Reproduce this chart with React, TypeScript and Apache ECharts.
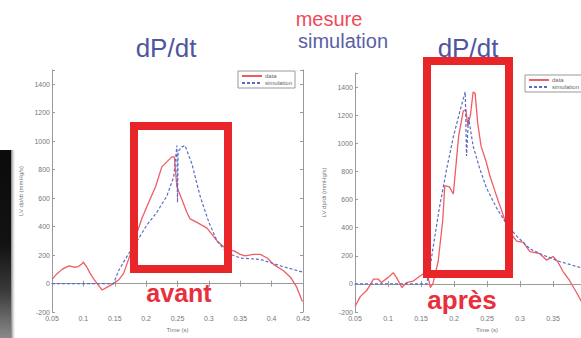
import React, { useEffect, useRef } from "react";
import * as echarts from "echarts";

// Left panel ("avant")
const leftDataTime = [0.05, 0.058, 0.066, 0.077, 0.085, 0.092, 0.098, 0.1, 0.105, 0.111, 0.117, 0.122, 0.13, 0.138, 0.148, 0.156, 0.164, 0.172, 0.178, 0.185, 0.193, 0.204, 0.215, 0.225, 0.233, 0.241, 0.245, 0.249, 0.257, 0.265, 0.27, 0.281, 0.297, 0.313, 0.329, 0.34, 0.35, 0.358, 0.371, 0.382, 0.393, 0.403, 0.419, 0.43, 0.44, 0.449];
const leftDataValue = [30, 70, 100, 125, 115, 120, 140, 150, 120, 70, 30, 0, -45, -25, 0, 25, 70, 170, 250, 350, 455, 570, 680, 820, 855, 890, 890, 680, 590, 500, 455, 430, 390, 300, 240, 230, 205, 195, 205, 205, 180, 135, 90, 45, -25, -125];
const leftSimTime = [0.05, 0.148, 0.156, 0.17, 0.185, 0.201, 0.217, 0.233, 0.244, 0.249, 0.25, 0.251, 0.257, 0.262, 0.273, 0.286, 0.3, 0.313, 0.329, 0.35, 0.382, 0.414, 0.45];
const leftSimValue = [0, 0, 90, 195, 295, 410, 500, 615, 750, 970, 570, 930, 960, 970, 840, 615, 430, 300, 215, 180, 170, 125, 80];

// Right panel ("après")
const rightDataTime = [0.05, 0.058, 0.068, 0.078, 0.085, 0.09, 0.1, 0.108, 0.113, 0.121, 0.128, 0.138, 0.148, 0.156, 0.161, 0.164, 0.168, 0.176, 0.183, 0.186, 0.193, 0.199, 0.207, 0.214, 0.218, 0.221, 0.225, 0.229, 0.232, 0.236, 0.241, 0.249, 0.254, 0.262, 0.267, 0.272, 0.277, 0.285, 0.295, 0.305, 0.315, 0.33, 0.34, 0.35, 0.357, 0.365, 0.375, 0.385, 0.393];
const rightDataValue = [-160, -90, -45, 35, 35, 10, 45, 80, 45, -25, 10, 20, 55, 80, 45, -25, 0, 160, 455, 700, 690, 640, 1050, 1230, 1240, 1125, 1205, 1365, 1355, 1140, 980, 865, 775, 660, 590, 525, 455, 365, 305, 295, 230, 215, 170, 195, 160, 90, 25, -55, -125];
const rightSimTime = [0.05, 0.159, 0.16, 0.162, 0.168, 0.178, 0.189, 0.199, 0.209, 0.217, 0.219, 0.222, 0.229, 0.239, 0.249, 0.264, 0.279, 0.295, 0.315, 0.335, 0.36, 0.393];
const rightSimValue = [0, 0, 40, 60, 250, 545, 820, 1045, 1230, 1365, 910, 1185, 980, 820, 685, 545, 430, 340, 250, 205, 160, 115];

const legendNames = ["data", "simulation"];
const xAxisName = "Time (s)";
const yAxisName = "LV dp/dt (mmHg/s)";

const zip = (t: number[], v: number[]) => t.map((x, i) => [x, v[i]]);

const RED = "#ef5d63";
const BLUE = "#5c6cc4";
const AXIS = "#9a9a9a";
const FONT = "Liberation Sans, Arial, sans-serif";

export default function App() {
  const ref = useRef<HTMLDivElement>(null);
  useEffect(() => {
    if (!ref.current) return;
    const chart = echarts.init(ref.current, undefined, { renderer: "svg" });

    const fmtX = (v: number) => String(parseFloat(v.toFixed(2)));
    const fmtY = (v: number) => (v > 1400 ? "" : String(v));

    const xBottom = (gi: number) => ({
      type: "value" as const,
      gridIndex: gi,
      min: 0.05,
      max: 0.45,
      interval: 0.05,
      position: "bottom" as const,
      name: xAxisName,
      nameLocation: "middle" as const,
      nameGap: 11,
      nameTextStyle: { fontSize: 6, color: "#777", fontFamily: FONT },
      axisLine: { show: true, lineStyle: { color: AXIS, width: 1 } },
      axisTick: { show: true, inside: true, length: 3, lineStyle: { color: AXIS } },
      axisLabel: { fontSize: 7, color: "#777", margin: 3, fontFamily: FONT, formatter: fmtX },
      splitLine: { show: false },
    });
    const xTop = (gi: number) => ({
      type: "value" as const,
      gridIndex: gi,
      min: 0.05,
      max: 0.45,
      interval: 0.05,
      position: "top" as const,
      axisLine: { show: true, lineStyle: { color: AXIS, width: 1 } },
      axisTick: { show: true, inside: true, length: 3, lineStyle: { color: AXIS } },
      axisLabel: { show: false },
      splitLine: { show: false },
    });
    const yLeft = (gi: number) => ({
      type: "value" as const,
      gridIndex: gi,
      min: -200,
      max: 1500,
      interval: 200,
      position: "left" as const,
      name: yAxisName,
      nameLocation: "middle" as const,
      nameGap: 28,
      nameTextStyle: { fontSize: 6, color: "#777", fontFamily: FONT },
      axisLine: { show: true, lineStyle: { color: AXIS, width: 1 } },
      axisTick: { show: true, inside: true, length: 3, lineStyle: { color: AXIS } },
      axisLabel: { fontSize: 7, color: "#777", margin: 2, fontFamily: FONT, formatter: fmtY },
      splitLine: { show: false },
    });
    const yRight = (gi: number) => ({
      type: "value" as const,
      gridIndex: gi,
      min: -200,
      max: 1500,
      interval: 200,
      position: "right" as const,
      axisLine: { show: true, lineStyle: { color: AXIS, width: 1 } },
      axisTick: { show: true, inside: true, length: 3, lineStyle: { color: AXIS } },
      axisLabel: { show: false },
      splitLine: { show: false },
    });

    const lineSeries = (name: string, data: number[][], xi: number, yi: number, dashed: boolean) => ({
      type: "line" as const,
      name,
      data,
      xAxisIndex: xi,
      yAxisIndex: yi,
      symbol: "none",
      showSymbol: false,
      smooth: false,
      clip: true,
      lineStyle: dashed
        ? { color: BLUE, width: 1.2, type: [3, 2] as any }
        : { color: RED, width: 1.3 },
      itemStyle: { color: dashed ? BLUE : RED },
      z: dashed ? 3 : 2,
    });

    const legendCommon = {
      orient: "vertical" as const,
      data: legendNames,
      backgroundColor: "#fff",
      borderColor: "#999",
      borderWidth: 1,
      borderRadius: 0,
      padding: [2, 3, 2, 3],
      itemGap: 1,
      itemWidth: 20,
      itemHeight: 7,
      itemStyle: { opacity: 0 },
      textStyle: { fontSize: 6, color: "#666", fontFamily: FONT, padding: [0, 0, 0, -2] },
      selectedMode: false,
    };

    const txt = (text: string, x: number, y: number, size: number, color: string, weight = "normal") => ({
      type: "text" as const,
      x,
      y,
      z: 100,
      style: {
        text,
        fill: color,
        fontSize: size,
        lineHeight: size,
        fontWeight: weight,
        fontFamily: FONT,
        textAlign: "center",
        textVerticalAlign: "middle",
      },
    });

    chart.setOption({
      animation: false,
      backgroundColor: "#ffffff",
      grid: [
        { left: 52, top: 70, width: 251, height: 249, show: true, borderColor: AXIS, borderWidth: 0, backgroundColor: "#fff" },
        { left: 355, top: 73, width: 264, height: 249, show: true, borderColor: AXIS, borderWidth: 0, backgroundColor: "#fff" },
      ],
      xAxis: [xBottom(0), xTop(0), xBottom(1), xTop(1)],
      yAxis: [yLeft(0), yRight(0), yLeft(1), yRight(1)],
      legend: [
        { ...legendCommon, left: 238, top: 71 },
        { ...legendCommon, left: 525, top: 75 },
      ],
      series: [
        lineSeries("data", zip(leftDataTime, leftDataValue), 0, 0, false),
        lineSeries("simulation", zip(leftSimTime, leftSimValue), 0, 0, true),
        lineSeries("data", zip(rightDataTime, rightDataValue), 2, 2, false),
        lineSeries("simulation", zip(rightSimTime, rightSimValue), 2, 2, true),
      ],
      graphic: [
        {
          type: "rect",
          z: 100,
          shape: { x: 0, y: 150, width: 11, height: 188 },
          style: {
            fill: new echarts.graphic.LinearGradient(0, 0, 0, 1, [
              { offset: 0, color: "#0b0b0b" },
              { offset: 0.5, color: "#121212" },
              { offset: 0.75, color: "#3a3a3a" },
              { offset: 1, color: "#8a8a8a" },
            ]),
          },
        },
        {
          type: "rect",
          z: 100,
          shape: { x: 11, y: 150, width: 5, height: 188 },
          style: {
            fill: new echarts.graphic.LinearGradient(0, 0, 1, 0, [
              { offset: 0, color: "rgba(90,90,90,0.8)" },
              { offset: 1, color: "rgba(255,255,255,0)" },
            ]),
          },
        },
        txt("dP/dt", 166, 48, 26, "#4f559e"),
        txt("dP/dt", 468, 48, 26, "#4f559e"),
        txt("mesure", 329, 19, 20, "#ec4a5a"),
        txt("simulation", 343, 41, 20, "#5a5fa5"),
        {
          type: "rect",
          z: 101,
          shape: { x: 134, y: 126, width: 94, height: 143 },
          style: { fill: "none", stroke: "#e8262a", lineWidth: 8 },
        },
        {
          type: "rect",
          z: 101,
          shape: { x: 427, y: 61, width: 82, height: 213 },
          style: { fill: "none", stroke: "#e8262a", lineWidth: 8 },
        },
        txt("avant", 179, 293, 25, "#e8303c", "bold"),
        txt("après", 462, 300, 26, "#e8303c", "bold"),
      ],
    });
    return () => chart.dispose();
  }, []);
  return (
    <div style={{ position: "fixed", left: 0, top: 0, width: 581, height: 338, overflow: "hidden", background: "#fff" }}>
      <div ref={ref} style={{ width: 640, height: 338 }} />
    </div>
  );
}
